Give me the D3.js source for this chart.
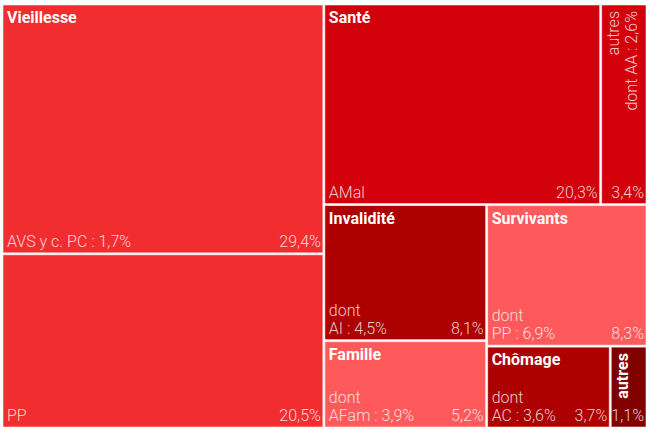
<!DOCTYPE html>
<html>
<head>
<meta charset="utf-8">
<script src="https://cdn.jsdelivr.net/npm/d3@7"></script>
<style>
  body { margin: 0; background: #fff; }
  svg { display: block; font-family: Roboto, "Noto Sans", sans-serif; }
</style>
</head>
<body>
<svg id="chart" width="646" height="427"></svg>
<script>
// Groups (top level) and their colours
const groups = ["Vieillesse", "Santé", "Invalidité", "Famille", "Survivants", "Chômage", "autres"];
const groupColors = ["#f22d30", "#d2000a", "#ad0000", "#fe5a5c", "#fe5a5c", "#ad0000", "#800000"];

// Leaves: group, value (%), lines written at the bottom
const leafGroup = ["Vieillesse", "Vieillesse", "Santé", "Santé", "Invalidité", "Famille", "Survivants", "Chômage", "autres"];
const leafValues = [29.4, 20.5, 20.3, 3.4, 8.1, 5.2, 8.3, 3.7, 1.1];
const leafLines = [
  ["AVS y c. PC : 1,7%"],
  ["PP"],
  ["AMal"],
  ["autres", "dont AA : 2,6%"],
  ["dont", "AI : 4,5%"],
  ["dont", "AFam : 3,9%"],
  ["dont", "PP : 6,9%"],
  ["dont", "AC : 3,6%"],
  []
];

const x0 = 3, y0 = 5, W = 643, H = 422;
const fs = 16;
const fmt = v => d3.format(".1f")(v).replace(".", ",") + "%";

const data = {
  name: "root",
  children: groups.map(g => ({
    name: g,
    children: leafValues
      .map((v, i) => ({ i, group: g, value: v, lines: leafLines[i] }))
      .filter(d => leafGroup[d.i] === g)
  }))
};

const root = d3.hierarchy(data).sum(d => d.value || 0);
d3.treemap()
  .tile(d3.treemapBinary)
  .size([W, H])
  .paddingInner(2)(root);

const svg = d3.select("#chart")
  .append("g")
  .attr("transform", `translate(${x0},${y0})`);

const color = d3.scaleOrdinal(groups, groupColors);

const leaf = svg.selectAll("g.leaf")
  .data(root.leaves())
  .join("g")
  .attr("class", "leaf");

leaf.append("rect")
  .attr("x", d => d.x0)
  .attr("y", d => d.y0)
  .attr("width", d => d.x1 - d.x0)
  .attr("height", d => d.y1 - d.y0)
  .attr("fill", d => color(d.data.group))
  .attr("stroke", "rgba(255,255,255,0.55)")
  .attr("stroke-width", 1);

const light = "rgba(255,255,255,0.8)";

leaf.each(function(d) {
  const g = d3.select(this);
  const w = d.x1 - d.x0;
  const first = d.parent.children[0] === d;
  const vertical = w < 50;

  if (!vertical) {
    // group title on the first leaf of each group
    if (first) {
      g.append("text")
        .attr("x", d.x0 + 4).attr("y", d.y0 + 18)
        .attr("fill", "#fff").attr("font-size", fs).attr("font-weight", 700)
        .text(d.data.group);
    }
    const lines = d.data.lines;
    lines.forEach((t, k) => {
      g.append("text")
        .attr("x", d.x0 + 4)
        .attr("y", d.y1 - 6 - (lines.length - 1 - k) * 18)
        .attr("fill", light).attr("font-size", fs).attr("font-weight", 300)
        .text(t);
    });
  } else {
    // narrow cells: rotated text
    const lines = first && d.parent.children.length === 1
      ? [{ t: d.data.group, bold: true }]
      : d.data.lines.map(t => ({ t, bold: false }));
    lines.forEach((l, k) => {
      const tx = d.x0 + 17 + k * 18, ty = d.y0 + 6;
      g.append("text")
        .attr("transform", `translate(${tx},${ty}) rotate(-90)`)
        .attr("text-anchor", "end")
        .attr("fill", l.bold ? "#fff" : light)
        .attr("font-size", fs).attr("font-weight", l.bold ? 700 : 300)
        .text(l.t);
    });
  }

  g.append("text")
    .attr("x", d.x1 - 2).attr("y", d.y1 - 6)
    .attr("text-anchor", "end")
    .attr("fill", light).attr("font-size", fs).attr("font-weight", 300)
    .text(fmt(d.value));
});
</script>
</body>
</html>
